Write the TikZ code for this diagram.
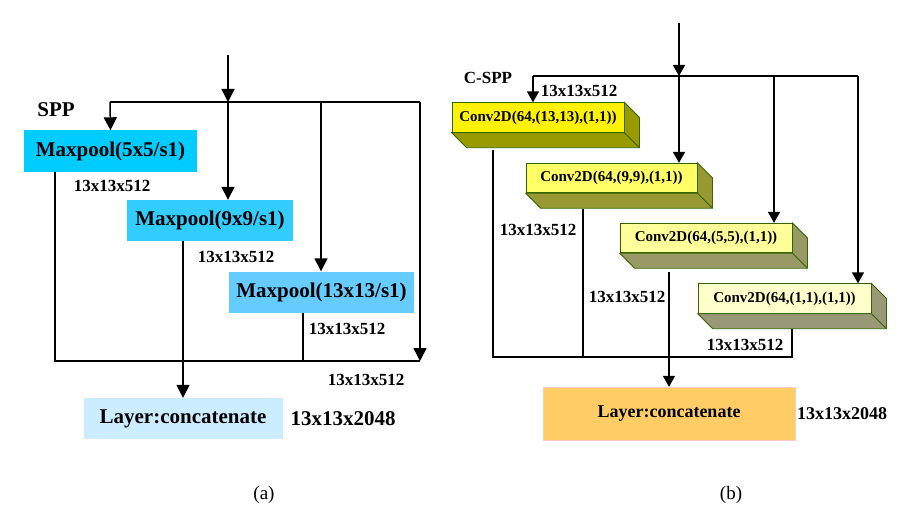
\documentclass[tikz,border=0pt]{standalone}
\usepackage{fontspec}
\setmainfont{Liberation Serif}
\usetikzlibrary{arrows.meta,positioning,calc}
\definecolor{sppa}{RGB}{0,204,255}
\definecolor{sppb}{RGB}{51,204,255}
\definecolor{sppc}{RGB}{102,204,255}
\definecolor{sppcat}{RGB}{204,236,255}
\definecolor{cspedge}{RGB}{51,102,0}
\definecolor{cspcat}{RGB}{255,204,102}
\definecolor{cspcatedge}{RGB}{250,200,200}
\tikzset{
  pblk/.style={rectangle, draw=none, text=black, font=\bfseries\fontsize{21}{24}\selectfont,
               minimum height=41pt, inner sep=0pt},
  cblk/.style={rectangle, draw=cspedge, line width=0.8pt, text=black, font=\bfseries\fontsize{15}{18}\selectfont,
               minimum height=29.5pt, inner sep=0pt},
  dimlbl/.style={font=\bfseries\fontsize{17}{20}\selectfont, inner sep=0pt},
  parr/.style={-{Triangle[length=13pt,width=13pt]}, line width=1.5pt},
  carr/.style={-{Triangle[length=11pt,width=12pt]}, line width=1.5pt},
  pln/.style={line width=1.5pt},
}
% bottom and right faces of a conv block: name, colour
\newcommand{\slab}[2]{%
  \filldraw[draw=cspedge, line width=0.8pt, fill=#2] (#1.south west) -- (#1.south east) -- (#1.north east)
    -- ([shift={(15,15)}]#1.north east) -- ([shift={(15,15)}]#1.south east) -- ([shift={(15,15)}]#1.south west) -- cycle;
  \draw[cspedge, line width=0.8pt] (#1.south east) -- ++(15,15);}

\begin{document}
\begin{tikzpicture}[x=1pt,y=-1pt]
        \useasboundingbox (0,0) rectangle (907,516);
        % (a) SPP
        \node[pblk, fill=sppa, minimum width=173pt] (p5) at (110.5,151) {Maxpool(5x5/s1)};
        \node[pblk, fill=sppb, minimum width=166pt] (p9) at (210,220.5) {Maxpool(9x9/s1)};
        \node[pblk, fill=sppc, minimum width=185pt] (p13) at (321.5,292) {Maxpool(13x13/s1)};
        \node[pblk, fill=sppcat, minimum width=199pt] (pcat) at (183,418.5) {Layer:concatenate};
        \node[font=\bfseries\fontsize{21}{24}\selectfont] (spp) at (56,110) {SPP};
        \node[dimlbl] (pd5) at (112,186) {13x13x512};
        \node[dimlbl] (pd9) at (236,257) {13x13x512};
        \node[dimlbl] (pd13) at (347,329) {13x13x512};
        \node[dimlbl] (pdid) at (366,380) {13x13x512};
        \node[font=\bfseries\fontsize{21}{24}\selectfont, inner sep=0pt] (pdcat) at (343,419) {13x13x2048};
        \node[font=\fontsize{19}{22}\selectfont] (capa) at (264,495) {(a)};
        \coordinate (pin) at (228,55); \coordinate (psplit) at (228,102);
        \coordinate (pl) at (110,102); \coordinate (pm) at (321,102); \coordinate (pr) at (420,102);
        \coordinate (pbl) at (55,361); \coordinate (pbm) at (303,361); \coordinate (pbr) at (420,361);
        \draw[parr] (pin) -- (psplit);
        \draw[pln] (pl) -- (pr);
        \draw[parr] (pl) -- (p5.north);
        \draw[parr] (psplit) -- (psplit |- p9.north);
        \draw[parr] (pm) -- (pm |- p13.north);
        \draw[parr] (pr) -- (pbr);
        \draw[pln] (pbl |- p5.south) -- (pbl) -- (pbr);
        \draw[pln] (pbm |- p13.south) -- (pbm);
        \draw[parr] (pcat.north |- p9.south) -- (pcat.north);
        % (b) C-SPP
        \node[cblk, fill=yellow, minimum width=172pt] (c13) at (538,117.5) {Conv2D(64,(13,13),(1,1))};
        \node[cblk, fill={rgb,255:red,255;green,255;blue,102}, minimum width=171pt] (c9) at (611.5,178) {Conv2D(64,(9,9),(1,1))};
        \node[cblk, fill={rgb,255:red,255;green,255;blue,153}, minimum width=172pt] (c5) at (706,238) {Conv2D(64,(5,5),(1,1))};
        \node[cblk, fill={rgb,255:red,255;green,255;blue,204}, minimum width=173pt] (c1) at (784.5,298.5) {Conv2D(64,(1,1),(1,1))};
        \slab{c13}{{rgb,255:red,153;green,153;blue,0}}
        \slab{c9}{{rgb,255:red,153;green,153;blue,51}}
        \slab{c5}{{rgb,255:red,153;green,153;blue,102}}
        \slab{c1}{{rgb,255:red,153;green,153;blue,119}}
        \node[rectangle, draw=cspcatedge, fill=cspcat, minimum width=252pt, minimum height=53pt, inner sep=0pt,
              font=\bfseries\fontsize{18}{21}\selectfont] (ccat) at (669,413.5) {Layer:concatenate};
        \node[font=\bfseries\fontsize{17}{20}\selectfont, inner sep=0pt] (cspp) at (488,78) {C-SPP};
        \node[dimlbl] (cd13) at (579,91) {13x13x512};
        \node[dimlbl] (cd9) at (538,230) {13x13x512};
        \node[dimlbl] (cd5) at (627,297) {13x13x512};
        \node[dimlbl] (cd1) at (745,345) {13x13x512};
        \node[font=\bfseries\fontsize{18}{21}\selectfont, inner sep=0pt] (cdcat) at (842,414) {13x13x2048};
        \node[font=\fontsize{19}{22}\selectfont] (capb) at (731,495) {(b)};
        \coordinate (cin) at (679,23); \coordinate (csplit) at (679,76);
        \coordinate (cl) at (533,76); \coordinate (cm) at (774,76); \coordinate (cr) at (858,76);
        \coordinate (cb13) at (493,357); \coordinate (cb9) at (583,357); \coordinate (cb5) at (669,272); \coordinate (cb1) at (792,357);
        \draw[carr] (cin) -- (csplit);
        \draw[pln] (cl) -- (cr);
        \draw[carr] (cl) -- (cl |- c13.north);
        \draw[carr] (csplit) -- (csplit |- c9.north);
        \draw[carr] (cm) -- (cm |- c5.north);
        \draw[carr] (cr) -- (cr |- c1.north);
        \draw[pln] (493,150) -- (cb13) -- (cb1) -- (792,329);
        \draw[pln] (583,209) -- (cb9);
        \draw[carr] (cb5) -- (cb5 |- ccat.north);
    \end{tikzpicture}
\end{document}
